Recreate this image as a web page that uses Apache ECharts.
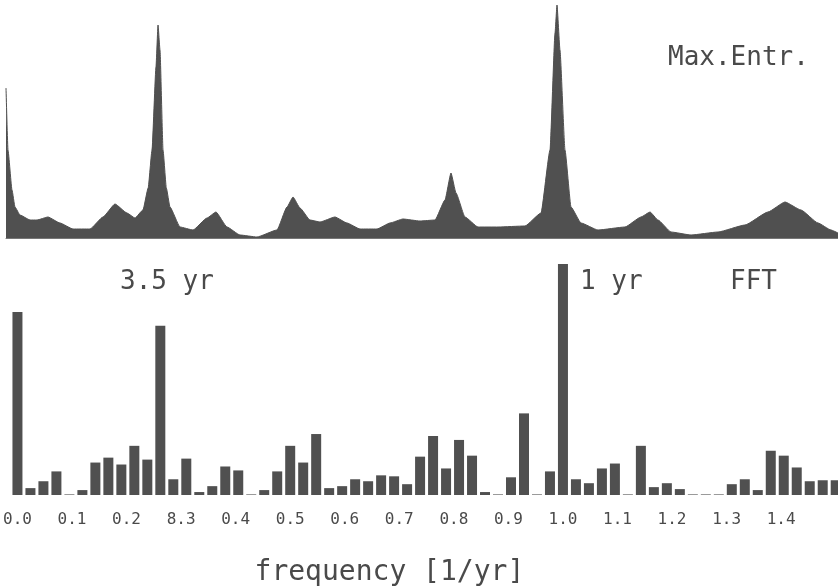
<!DOCTYPE html>
<html>
<head>
<meta charset="utf-8">
<script src="https://cdn.jsdelivr.net/npm/echarts@6/dist/echarts.min.js"></script>
<style>
html,body{margin:0;padding:0;background:#fff;}
#c{width:838px;height:588px;}
</style>
</head>
<body>
<div id="c"></div>
<script>
// ---- Data ----
// Max. entropy spectrum: frequency [1/yr] and power (arbitrary units)
const meFreq = [0.000,0.0036,0.0109,0.0163,0.0254,0.0436,0.0563,0.0762,0.098,0.1216,0.1525,0.176,0.1978,0.2196,0.234,0.2486,0.258,0.265,0.2722,0.2759,0.2795,0.285,0.291,0.2976,0.3158,0.3394,0.3648,0.3811,0.4011,0.4247,0.4555,0.4918,0.51,0.5209,0.5336,0.5517,0.5699,0.5971,0.6189,0.6425,0.6733,0.6969,0.7205,0.7514,0.7786,0.7967,0.8076,0.8167,0.833,0.8566,0.8929,0.9419,0.971,0.9873,0.9964,1.0,1.0054,1.0145,1.0254,1.0436,1.0744,1.1234,1.1525,1.1688,1.1833,1.2069,1.2432,1.2922,1.3412,1.3829,1.4138,1.4428,1.4737,1.4973,1.51];
const mePower = [150,88,48,31,23,18,18,21,15,9,9,21,34,25,20,28,50,88,171,213,188,88,50,31,11,8,20,26,11,3,1,8,31,41,30,18,16,21,15,9,9,15,19,17,18,38,65,45,21,11,11,12,25,88,205,233,188,88,31,15,8,11,21,26,18,6,3,6,13,26,36,28,15,8,5];

// FFT periodogram: bin values (arbitrary units), one per frequency bin
const fftStep = 1 / 42; // bin width [1/yr]
const fftValues = [186,7,14,24,1,5,33,38,31,50,36,172,16,37,3,9,29,25,1,5,24,50,33,62,7,9,16,14,20,19,11,39,60,27,56,40,3,1,18,83,1,24,235,16,12,27,32,1,50,8,12,6,1,1,1,11,16,5,45,40,28,14,15,15];

// Axis tick values and labels (as printed)
const tickValues = [0,0.1,0.2,0.3,0.4,0.5,0.6,0.7,0.8,0.9,1.0,1.1,1.2,1.3,1.4];
const tickLabels = ['0.0','0.1','0.2','8.3','0.4','0.5','0.6','0.7','0.8','0.9','1.0','1.1','1.2','1.3','1.4'];

// ---- Chart ----
const chart = echarts.init(document.getElementById('c'));
const FONT = 'DejaVu Sans Mono';
const TXT = '#4a4a4a';
const meData = meFreq.map((f, i) => [f, mePower[i]]);
const fftData = fftValues.map((v, i) => ({
  value: [i * fftStep, v],
  itemStyle: { color: v <= 1 ? '#9a9a9a' : '#505050' }
}));

const pxPerUnit = 546, x0 = 16.7;
chart.setOption({
  animation: false,
  backgroundColor: '#fff',
  grid: [
    { left: 6, right: 0, top: 0, height: 238 },
    { left: 0, right: 0, top: 259, height: 240 }
  ],
  xAxis: [
    { gridIndex: 0, type: 'value', min: 0, max: 832 / 551,
      axisLine: { show: true, lineStyle: { color: '#777', width: 1 } },
      axisTick: { show: false }, axisLabel: { show: false }, splitLine: { show: false } },
    { gridIndex: 1, type: 'value', min: -x0 / pxPerUnit, max: (838 - x0) / pxPerUnit,
      axisLine: { show: false }, axisTick: { show: false }, splitLine: { show: false },
      axisLabel: { show: true, customValues: tickValues, margin: 17,
        fontFamily: FONT, fontSize: 16, color: TXT,
        formatter: v => { const k = tickValues.findIndex(t => Math.abs(t - v) < 1e-6); return k >= 0 ? tickLabels[k] : ''; } },
      name: 'frequency [1/yr]', nameLocation: 'middle', nameGap: 64,
      nameTextStyle: { fontFamily: FONT, fontSize: 28, color: TXT, padding: [0, 60, 0, 0] } }
  ],
  yAxis: [
    { gridIndex: 0, type: 'value', min: 0, max: 238, show: false },
    { gridIndex: 1, type: 'value', min: 0, max: 240, show: false }
  ],
  series: [
    { type: 'line', xAxisIndex: 0, yAxisIndex: 0, data: meData, symbol: 'none',
      smooth: 0.15, smoothMonotone: 'x',
      lineStyle: { color: '#505050', width: 1 }, areaStyle: { color: '#505050', opacity: 1 } },
    { type: 'bar', xAxisIndex: 1, yAxisIndex: 1, data: fftData, barWidth: 10 }
  ],
  graphic: [
    { type: 'text', left: 668, top: 45, style: { text: 'Max.Entr.', font: '26px "' + FONT + '"', fill: TXT } },
    { type: 'text', left: 120, top: 269, style: { text: '3.5 yr', font: '26px "' + FONT + '"', fill: TXT } },
    { type: 'text', left: 580, top: 269, style: { text: '1 yr', font: '26px "' + FONT + '"', fill: TXT } },
    { type: 'text', left: 730, top: 269, style: { text: 'FFT', font: '26px "' + FONT + '"', fill: TXT } }
  ]
});
</script>
</body>
</html>
